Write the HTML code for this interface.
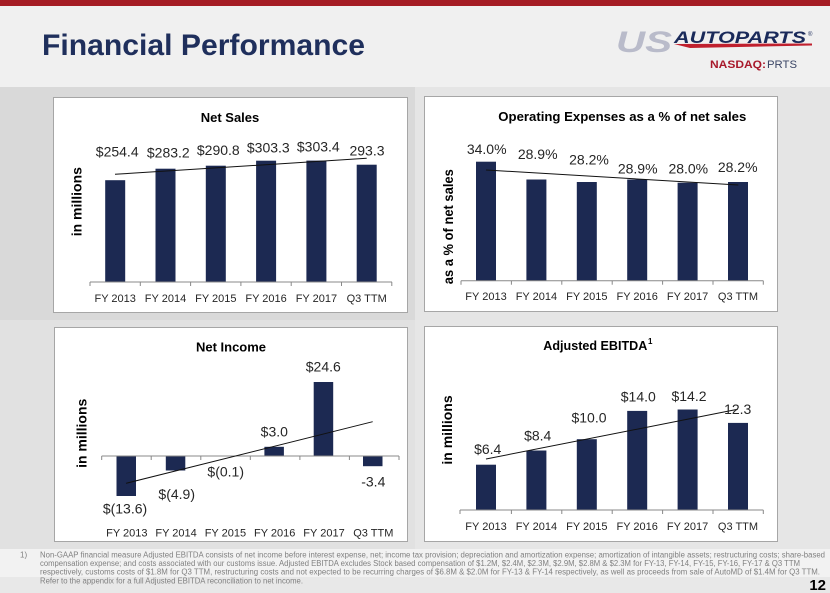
<!DOCTYPE html>
<html><head><meta charset="utf-8"><style>
html,body{margin:0;padding:0;background:#f0f0f0;}
svg{display:block;}
text{font-family:"Liberation Sans",Arial,sans-serif;}
</style></head><body>
<svg width="830" height="593" viewBox="0 0 830 593" xmlns="http://www.w3.org/2000/svg">
<!-- backgrounds -->
<rect x="0" y="0" width="830" height="593" fill="#f0f0f0"/>
<rect x="0" y="0" width="830" height="6" fill="#a51c24"/>
<rect x="0" y="87" width="415" height="233" fill="#d9d9d9"/>
<rect x="415" y="87" width="415" height="233" fill="#e5e5e5"/>
<rect x="0" y="320" width="415" height="229" fill="#e1e1e1"/>
<rect x="415" y="320" width="415" height="229" fill="#e6e6e6"/>
<rect x="0" y="549" width="830" height="28" fill="#f2f2f2"/>
<rect x="0" y="577" width="830" height="16" fill="#e8e8e8"/>

<!-- Title -->
<text x="42" y="55" font-size="30" font-weight="bold" fill="#1f2f5c" textLength="323" lengthAdjust="spacingAndGlyphs">Financial Performance</text>

<!-- Logo -->
<text x="616" y="52" font-size="30" font-weight="bold" font-style="italic" fill="#b9bbca" textLength="56" lengthAdjust="spacingAndGlyphs">US</text>
<text x="674" y="43" font-size="17" font-weight="bold" font-style="italic" fill="#1a2a5a" textLength="132" lengthAdjust="spacingAndGlyphs">AUTOPARTS</text>
<text x="808" y="36" font-size="6" fill="#1a2a5a">®</text>
<polygon points="674,44 812,43.5 812,45.5 690,48" fill="#c0202e"/>
<text x="710" y="68" font-size="11" font-weight="bold" fill="#a8192b" textLength="56" lengthAdjust="spacingAndGlyphs">NASDAQ:</text>
<text x="767" y="68" font-size="11" fill="#3a4565" textLength="30" lengthAdjust="spacingAndGlyphs">PRTS</text>

<!-- ============ Net Sales ============ -->
<rect x="53.5" y="97.5" width="354" height="215" fill="#ffffff" stroke="#a6a6a6"/>
<text x="230" y="122" font-size="13" font-weight="bold" fill="#000" text-anchor="middle">Net Sales</text>
<g fill="#1c2952">
<rect x="105.2" y="180.2" width="20" height="101.8"/>
<rect x="155.5" y="168.7" width="20" height="113.3"/>
<rect x="205.8" y="165.7" width="20" height="116.3"/>
<rect x="256.1" y="160.7" width="20" height="121.3"/>
<rect x="306.4" y="160.6" width="20" height="121.4"/>
<rect x="356.7" y="164.7" width="20" height="117.3"/>
</g>
<g stroke="#888" stroke-width="1">
<line x1="90" y1="282" x2="392" y2="282"/>
<line x1="90" y1="282" x2="90" y2="286"/>
<line x1="140.3" y1="282" x2="140.3" y2="286"/>
<line x1="190.6" y1="282" x2="190.6" y2="286"/>
<line x1="240.9" y1="282" x2="240.9" y2="286"/>
<line x1="291.2" y1="282" x2="291.2" y2="286"/>
<line x1="341.5" y1="282" x2="341.5" y2="286"/>
<line x1="391.8" y1="282" x2="391.8" y2="286"/>
</g>
<line x1="115" y1="174.3" x2="366.7" y2="158.3" stroke="#111" stroke-width="1"/>
<g font-size="14" fill="#262626" text-anchor="middle">
<text x="117.2" y="156.7">$254.4</text>
<text x="168.3" y="157.7">$283.2</text>
<text x="218.3" y="155">$290.8</text>
<text x="268.3" y="152.5">$303.3</text>
<text x="318.3" y="151.7">$303.4</text>
<text x="367" y="155.5">293.3</text>
</g>
<g font-size="11" fill="#262626" text-anchor="middle">
<text x="115.2" y="302">FY 2013</text>
<text x="165.5" y="302">FY 2014</text>
<text x="215.8" y="302">FY 2015</text>
<text x="266.1" y="302">FY 2016</text>
<text x="316.4" y="302">FY 2017</text>
<text x="366.7" y="302">Q3 TTM</text>
</g>
<text transform="translate(81.5,201.7) rotate(-90)" font-size="14" font-weight="bold" fill="#000" text-anchor="middle">in millions</text>

<!-- ============ Operating Expenses ============ -->
<rect x="424.5" y="96.5" width="353" height="215" fill="#ffffff" stroke="#a6a6a6"/>
<text x="622.3" y="121" font-size="13" font-weight="bold" fill="#000" text-anchor="middle" textLength="248" lengthAdjust="spacingAndGlyphs">Operating Expenses as a % of net sales</text>
<g fill="#1c2952">
<rect x="476" y="161.7" width="20" height="119"/>
<rect x="526.4" y="179.5" width="20" height="101.2"/>
<rect x="576.8" y="182" width="20" height="98.7"/>
<rect x="627.2" y="179.5" width="20" height="101.2"/>
<rect x="677.6" y="182.7" width="20" height="98"/>
<rect x="728" y="182" width="20" height="98.7"/>
</g>
<g stroke="#888" stroke-width="1">
<line x1="461" y1="280.7" x2="763.3" y2="280.7"/>
<line x1="461" y1="280.7" x2="461" y2="284.7"/>
<line x1="511.4" y1="280.7" x2="511.4" y2="284.7"/>
<line x1="561.8" y1="280.7" x2="561.8" y2="284.7"/>
<line x1="612.2" y1="280.7" x2="612.2" y2="284.7"/>
<line x1="662.6" y1="280.7" x2="662.6" y2="284.7"/>
<line x1="713" y1="280.7" x2="713" y2="284.7"/>
<line x1="763.3" y1="280.7" x2="763.3" y2="284.7"/>
</g>
<line x1="486" y1="170" x2="738.3" y2="185" stroke="#111" stroke-width="1"/>
<g font-size="14" fill="#262626" text-anchor="middle">
<text x="486.7" y="154">34.0%</text>
<text x="537.7" y="159">28.9%</text>
<text x="589" y="164.5">28.2%</text>
<text x="637.7" y="173.5">28.9%</text>
<text x="688.3" y="173.5">28.0%</text>
<text x="737.7" y="172">28.2%</text>
</g>
<g font-size="11" fill="#262626" text-anchor="middle">
<text x="486" y="300">FY 2013</text>
<text x="536.4" y="300">FY 2014</text>
<text x="586.8" y="300">FY 2015</text>
<text x="637.2" y="300">FY 2016</text>
<text x="687.6" y="300">FY 2017</text>
<text x="738" y="300">Q3 TTM</text>
</g>
<text transform="translate(453,226.7) rotate(-90)" font-size="14" font-weight="bold" fill="#000" text-anchor="middle" textLength="115" lengthAdjust="spacingAndGlyphs">as a % of net sales</text>

<!-- ============ Net Income ============ -->
<rect x="54.5" y="327.5" width="353" height="214" fill="#ffffff" stroke="#a6a6a6"/>
<text x="231" y="351.7" font-size="13" font-weight="bold" fill="#000" text-anchor="middle">Net Income</text>
<g fill="#1c2952">
<rect x="116.5" y="456" width="19.5" height="40"/>
<rect x="165.8" y="456" width="19.5" height="14.5"/>
<rect x="215.1" y="456" width="19.5" height="0.5"/>
<rect x="264.4" y="446.8" width="19.5" height="9.2"/>
<rect x="313.7" y="382" width="19.5" height="74"/>
<rect x="363" y="456" width="19.5" height="10.2"/>
</g>
<g stroke="#888" stroke-width="1">
<line x1="101.7" y1="456" x2="399" y2="456"/>
<line x1="101.7" y1="456" x2="101.7" y2="460"/>
<line x1="151.2" y1="456" x2="151.2" y2="460"/>
<line x1="200.8" y1="456" x2="200.8" y2="460"/>
<line x1="250.3" y1="456" x2="250.3" y2="460"/>
<line x1="299.9" y1="456" x2="299.9" y2="460"/>
<line x1="349.4" y1="456" x2="349.4" y2="460"/>
<line x1="399" y1="456" x2="399" y2="460"/>
</g>
<line x1="126" y1="483.3" x2="372.7" y2="421.7" stroke="#111" stroke-width="1"/>
<g font-size="14" fill="#262626" text-anchor="middle">
<text x="125" y="513.3">$(13.6)</text>
<text x="176.7" y="499">$(4.9)</text>
<text x="225.7" y="476.7">$(0.1)</text>
<text x="274.3" y="436.7">$3.0</text>
<text x="323.3" y="371.7">$24.6</text>
<text x="373.3" y="486.7">-3.4</text>
</g>
<g font-size="11" fill="#262626" text-anchor="middle">
<text x="126.8" y="536.5">FY 2013</text>
<text x="176.1" y="536.5">FY 2014</text>
<text x="225.4" y="536.5">FY 2015</text>
<text x="274.7" y="536.5">FY 2016</text>
<text x="324" y="536.5">FY 2017</text>
<text x="373.3" y="536.5">Q3 TTM</text>
</g>
<text transform="translate(86.5,433.3) rotate(-90)" font-size="14" font-weight="bold" fill="#000" text-anchor="middle">in millions</text>

<!-- ============ Adjusted EBITDA ============ -->
<rect x="424.5" y="326.5" width="353" height="215" fill="#ffffff" stroke="#a6a6a6"/>
<text x="543.3" y="350" font-size="13" font-weight="bold" fill="#000" textLength="104" lengthAdjust="spacingAndGlyphs">Adjusted EBITDA</text>
<text x="648" y="344" font-size="8" font-weight="bold" fill="#000">1</text>
<g fill="#1c2952">
<rect x="476" y="464.7" width="20" height="45.3"/>
<rect x="526.4" y="450.5" width="20" height="59.5"/>
<rect x="576.8" y="439.2" width="20" height="70.8"/>
<rect x="627.2" y="410.9" width="20" height="99.1"/>
<rect x="677.6" y="409.5" width="20" height="100.5"/>
<rect x="728" y="422.9" width="20" height="87.1"/>
</g>
<g stroke="#888" stroke-width="1">
<line x1="460" y1="510" x2="763.3" y2="510"/>
<line x1="460" y1="510" x2="460" y2="514"/>
<line x1="511.4" y1="510" x2="511.4" y2="514"/>
<line x1="561.8" y1="510" x2="561.8" y2="514"/>
<line x1="612.2" y1="510" x2="612.2" y2="514"/>
<line x1="662.6" y1="510" x2="662.6" y2="514"/>
<line x1="713" y1="510" x2="713" y2="514"/>
<line x1="763.3" y1="510" x2="763.3" y2="514"/>
</g>
<line x1="486" y1="459" x2="737.7" y2="409.3" stroke="#111" stroke-width="1"/>
<g font-size="14" fill="#262626" text-anchor="middle">
<text x="487.7" y="454">$6.4</text>
<text x="537.7" y="440.7">$8.4</text>
<text x="589" y="422.3">$10.0</text>
<text x="638.3" y="401.7">$14.0</text>
<text x="689" y="401">$14.2</text>
<text x="737.7" y="414">12.3</text>
</g>
<g font-size="11" fill="#262626" text-anchor="middle">
<text x="486" y="530">FY 2013</text>
<text x="536.4" y="530">FY 2014</text>
<text x="586.8" y="530">FY 2015</text>
<text x="637.2" y="530">FY 2016</text>
<text x="687.6" y="530">FY 2017</text>
<text x="738" y="530">Q3 TTM</text>
</g>
<text transform="translate(452,430) rotate(-90)" font-size="14" font-weight="bold" fill="#000" text-anchor="middle">in millions</text>

<!-- Footnote -->
<g font-size="8" fill="#808080">
<text x="20" y="557.5">1)</text>
<text x="40" y="557.5" textLength="785" lengthAdjust="spacingAndGlyphs">Non-GAAP financial measure Adjusted EBITDA consists of net income before interest expense, net;  income tax provision; depreciation and amortization expense; amortization of intangible assets; restructuring costs; share-based</text>
<text x="40" y="566" textLength="760" lengthAdjust="spacingAndGlyphs">compensation expense; and costs associated with our customs issue. Adjusted EBITDA excludes Stock based compensation of $1.2M, $2.4M, $2.3M, $2.9M, $2.8M &amp; $2.3M for  FY-13, FY-14, FY-15, FY-16, FY-17 &amp; Q3 TTM</text>
<text x="40" y="574.7" textLength="780" lengthAdjust="spacingAndGlyphs">respectively, customs costs of $1.8M for Q3 TTM, restructuring costs and not expected to be recurring charges of $6.8M &amp; $2.0M for FY-13 &amp; FY-14  respectively, as well as proceeds from sale of AutoMD of $1.4M for Q3 TTM.</text>
<text x="40" y="583.3" textLength="263" lengthAdjust="spacingAndGlyphs">Refer to the appendix for a full Adjusted EBITDA reconciliation to net income.</text>
</g>
<text x="826" y="590" font-size="15" font-weight="bold" fill="#000" text-anchor="end">12</text>
</svg>
</body></html>
